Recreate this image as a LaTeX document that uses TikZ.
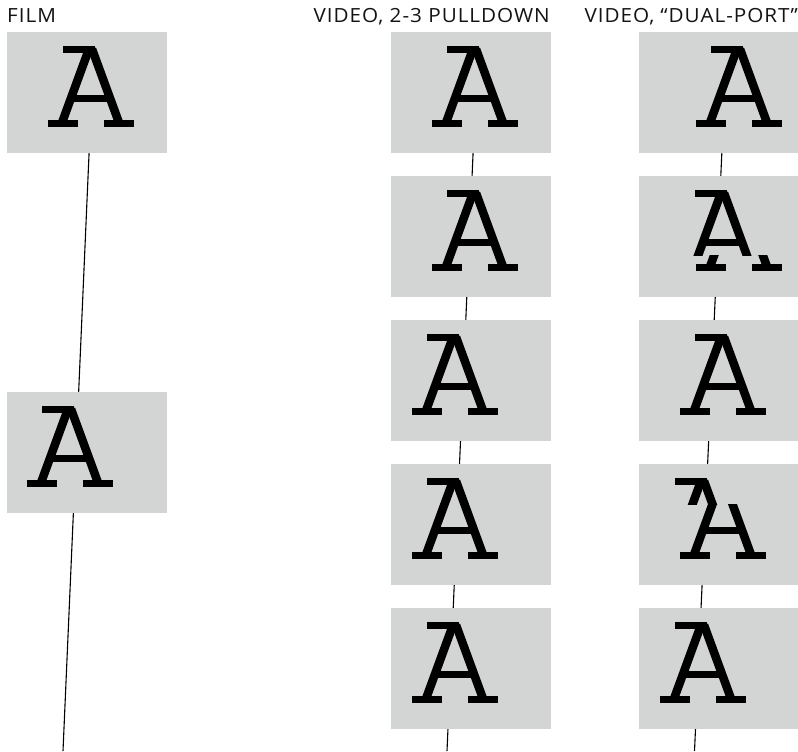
\documentclass[tikz,border=0pt]{standalone}
\usepackage{fontspec}
\setmainfont{Open Sans}[FakeStretch=1.06, LetterSpace=5]
\definecolor{boxgray}{RGB}{211,212,212}
\definecolor{ink}{RGB}{20,18,18}
% letter "A": #1 = x of left foot, #2 = baseline y (image pixels, y downward)
\newcommand\glyphAA[2]{%
  \begin{scope}[shift={(#1,#2)}]
    \fill[black] (0,0) rectangle (30,-7);
    \fill[black] (56,0) rectangle (86,-7);
    \fill[black] (15,-74) rectangle (47,-81);
    \draw[black,line width=8.5pt] (13.5,-3) -- (41,-78);
    \draw[black,line width=8.5pt] (44,-78) -- (71.5,-3);
    \draw[black,line width=7pt] (22,-28.5) -- (63,-28.5);
  \end{scope}}
\begin{document}
\begin{tikzpicture}[x=1pt,y=-1pt,
  frame/.style={fill=boxgray, minimum width=160pt, minimum height=121pt,
                inner sep=0pt, outer sep=0pt, anchor=north west},
  track/.style={line width=1.1pt, black},
  lbl/.style={font=\fontsize{19.5}{22}\selectfont, text=ink, inner sep=0pt}]
\useasboundingbox (0,0) rectangle (798,752);

% motion tracks (behind the frames)
\coordinate (fs) at (94,40);   \coordinate (fe) at (63,751);
\coordinate (ps) at (478,40);  \coordinate (pe) at (447,751);
\coordinate (ds) at (727,40);  \coordinate (de) at (694.5,751);
\draw[track] (fs) -- (fe);
\draw[track] (ps) -- (pe);
\draw[track] (ds) -- (de);

% labels
\node[lbl, anchor=base west] (lfilm) at (7,23) {FILM};
\node[lbl, anchor=base east] (lpull) at (550,23) {VIDEO, 2-3 PULLDOWN};
\node[lbl, anchor=base east] (ldual) at (798,23) {VIDEO,\hspace{6pt}\textquotedblleft DUAL-PORT\textquotedblright};

% film frames
\node[frame] (f1) at (7,32) {};
\node[frame] (f2) at (7,392) {};
\glyphAA{48}{127}
\glyphAA{27}{487}

% 2-3 pulldown frames
\node[frame] (p1) at (391,32) {};
\node[frame] (p2) at (391,176) {};
\node[frame] (p3) at (391,320) {};
\node[frame] (p4) at (391,464) {};
\node[frame] (p5) at (391,608) {};
\glyphAA{432}{127}
\glyphAA{432}{271}
\glyphAA{412}{415}
\glyphAA{412}{559}
\glyphAA{412}{703}

% dual-port frames
\node[frame] (d1) at (639,32) {};
\node[frame] (d2) at (639,176) {};
\node[frame] (d3) at (639,320) {};
\node[frame] (d4) at (639,464) {};
\node[frame] (d5) at (639,608) {};
\glyphAA{696}{127}
\begin{scope}
  \clip (639,176) rectangle (799,255);
  \glyphAA{680}{271}
\end{scope}
\begin{scope}
  \clip (639,255) rectangle (799,297);
  \glyphAA{696}{271}
\end{scope}
\glyphAA{680}{415}
\begin{scope}
  \clip (639,464) rectangle (799,504);
  \glyphAA{660}{559}
\end{scope}
\begin{scope}
  \clip (639,504) rectangle (799,585);
  \glyphAA{680}{559}
\end{scope}
\glyphAA{660}{703}
\end{tikzpicture}
\end{document}
